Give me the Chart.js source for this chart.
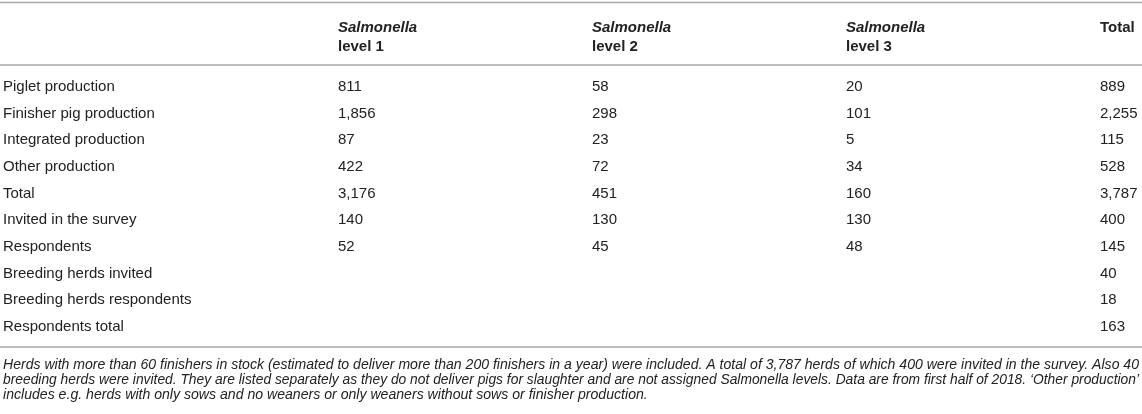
<!DOCTYPE html>
<html>
<head>
<meta charset="utf-8">
<script src="https://cdn.jsdelivr.net/npm/chart.js@4.4.1/dist/chart.umd.min.js"></script>
<style>
  html, body { margin: 0; padding: 0; background: #ffffff; overflow: hidden; }
  #wrap { width: 1142px; height: 414px; }
</style>
</head>
<body>
<div id="wrap"><canvas id="c" width="1142" height="414"></canvas></div>
<script>
// ---- data ----
const rowLabels = [
  'Piglet production',
  'Finisher pig production',
  'Integrated production',
  'Other production',
  'Total',
  'Invited in the survey',
  'Respondents',
  'Breeding herds invited',
  'Breeding herds respondents',
  'Respondents total'
];
const headerTop = ['Salmonella', 'Salmonella', 'Salmonella', 'Total'];
const headerBottom = ['level 1', 'level 2', 'level 3', ''];
const level1 = [811, 1856, 87, 422, 3176, 140, 52, null, null, null];
const level2 = [58, 298, 23, 72, 451, 130, 45, null, null, null];
const level3 = [20, 101, 5, 34, 160, 130, 48, null, null, null];
const totals = [889, 2255, 115, 528, 3787, 400, 145, 40, 18, 163];
const footnoteLines = [
  'Herds with more than 60 finishers in stock (estimated to deliver more than 200 finishers in a year) were included. A total of 3,787 herds of which 400 were invited in the survey. Also 40',
  'breeding herds were invited. They are listed separately as they do not deliver pigs for slaughter and are not assigned Salmonella levels. Data are from first half of 2018. \u2018Other production\u2019',
  'includes e.g. herds with only sows and no weaners or only weaners without sows or finisher production.'
];

// ---- style / layout ----
const FONT = '"Liberation Sans", Arial, Helvetica, sans-serif';
const TEXT = '#222222';
const RULE = '#a8a8a8';
const BODY_SIZE = 15;
const XMAX = 3.1535;
const YMIN = -1.1625;
const YMAX = 9.4987;

const columns = [level1, level2, level3, totals];

const cellText = {
  id: 'cellText',
  afterDatasetsDraw(chart) {
    const ctx = chart.ctx;
    ctx.save();
    ctx.font = BODY_SIZE + 'px ' + FONT;
    ctx.fillStyle = TEXT;
    ctx.textAlign = 'left';
    ctx.textBaseline = 'middle';
    chart.data.datasets.forEach((ds, di) => {
      const meta = chart.getDatasetMeta(di);
      meta.data.forEach((el, i) => {
        const v = ds.data[i].v;
        ctx.fillText(v.toLocaleString('en-US'), el.x, el.y);
      });
    });
    ctx.restore();
  }
};

const rules = {
  id: 'rules',
  afterDraw(chart) {
    const { ctx, chartArea: a, width } = chart;
    ctx.save();
    ctx.strokeStyle = RULE;
    ctx.lineWidth = 1.5;
    [2.5, a.top + 9, a.bottom + 6.7].forEach(y => {
      ctx.beginPath();
      ctx.moveTo(0, y);
      ctx.lineTo(width, y);
      ctx.stroke();
    });
    ctx.restore();
  }
};

const headerFont = (italicFirst) => (ctx) => ({
  family: FONT,
  size: BODY_SIZE,
  weight: 'bold',
  style: (italicFirst && ctx.index < 3) ? 'italic' : 'normal',
  lineHeight: 1.2
});

new Chart(document.getElementById('c'), {
  type: 'scatter',
  data: {
    datasets: columns.map((vals, ci) => ({
      label: headerBottom[ci] || headerTop[ci],
      data: vals.map((v, ri) => v == null ? null : { x: ci, y: ri, v: v }).filter(Boolean),
      pointRadius: 0,
      pointHoverRadius: 0,
      showLine: false
    }))
  },
  options: {
    responsive: false,
    animation: false,
    events: [],
    layout: { padding: { left: 3, right: 3, top: 19, bottom: 11.5 } },
    plugins: {
      legend: { display: false },
      tooltip: { enabled: false },
      title: { display: false },
      subtitle: {
        display: true,
        position: 'bottom',
        align: 'start',
        text: footnoteLines,
        color: TEXT,
        font: { family: FONT, size: 14.1, style: 'italic', weight: 'normal', lineHeight: '15px' },
        padding: { top: 17.2, bottom: 0 }
      }
    },
    scales: {
      x: {
        type: 'linear',
        position: 'top',
        weight: 0,
        min: 0,
        max: XMAX,
        afterBuildTicks: (s) => { s.ticks = headerBottom.map((_, i) => ({ value: i })); },
        ticks: {
          autoSkip: false, maxRotation: 0, minRotation: 0, align: 'start',
          padding: 0.5, color: TEXT, font: headerFont(false),
          callback: (v, i) => headerBottom[i] ?? ''
        },
        grid: { display: false, drawTicks: false },
        border: { display: false }
      },
      x2: {
        type: 'linear',
        position: 'top',
        weight: 1,
        min: 0,
        max: XMAX,
        afterBuildTicks: (s) => { s.ticks = headerTop.map((_, i) => ({ value: i })); },
        ticks: {
          autoSkip: false, maxRotation: 0, minRotation: 0, align: 'start',
          padding: 0, color: TEXT, font: headerFont(true),
          callback: (v, i) => headerTop[i] ?? ''
        },
        grid: { display: false, drawTicks: false },
        border: { display: false }
      },
      y: {
        type: 'linear',
        reverse: true,
        min: YMIN,
        max: YMAX,
        position: 'left',
        afterBuildTicks: (s) => { s.ticks = rowLabels.map((_, i) => ({ value: i })); },
        afterFit: (s) => { s.width = 335; },
        ticks: {
          autoSkip: false, crossAlign: 'far', padding: 0, color: TEXT,
          font: { family: FONT, size: BODY_SIZE, lineHeight: 1.2 },
          callback: (v, i) => rowLabels[i] ?? ''
        },
        grid: { display: false, drawTicks: false },
        border: { display: false }
      }
    }
  },
  plugins: [cellText, rules]
});
</script>
</body>
</html>
